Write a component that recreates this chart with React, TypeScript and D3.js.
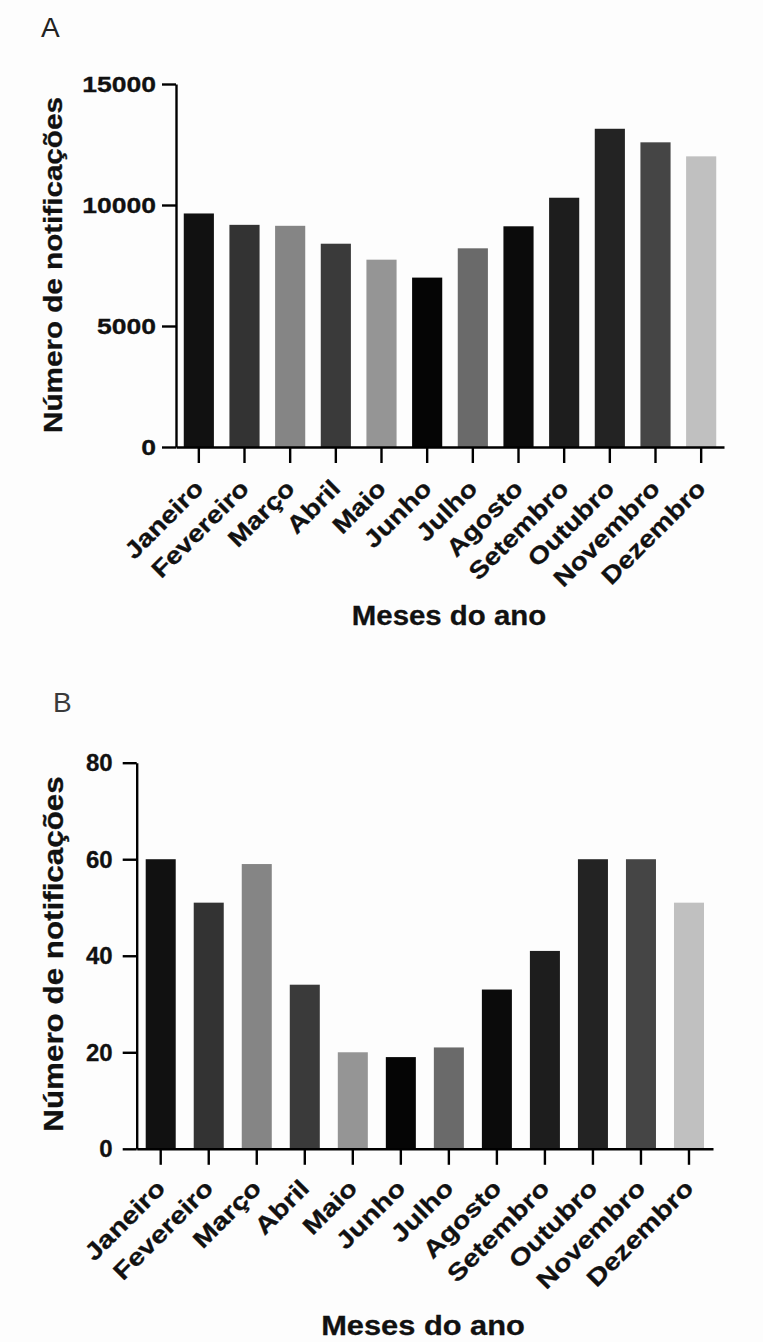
import React, { useEffect, useRef } from "react";
import * as d3 from "d3";

const months = [
  "Janeiro", "Fevereiro", "Março", "Abril", "Maio", "Junho",
  "Julho", "Agosto", "Setembro", "Outubro", "Novembro", "Dezembro",
];
const notificationsA = [9650, 9180, 9140, 8400, 7740, 7000, 8210, 9120, 10300, 13150, 12590, 12010];
const notificationsB = [60, 51, 59, 34, 20, 19, 21, 33, 41, 60, 60, 51];
const barColors = [
  "#111111", "#333333", "#858585", "#3a3a3a", "#959595", "#050505",
  "#6a6a6a", "#0b0b0b", "#1d1d1d", "#232323", "#454545", "#c0c0c0",
];
const ticksA = [0, 5000, 10000, 15000];
const ticksB = [0, 20, 40, 60, 80];
const yTitle = "Número de notificações";
const xTitle = "Meses do ano";

const FONT = "'Liberation Sans', Arial, Helvetica, sans-serif";

type Panel = {
  label: string; labelX: number; labelY: number; labelColor: string;
  values: number[]; ticks: number[]; max: number;
  x0: number; x1: number; yTop: number; yBottom: number;
  pad: number; tickFont: number; tickScale: number; tickGap: number;
  xLabelFont: number; xLabelScale: number; xLabelDx: number; xLabelDy: number;
  titleX: number; titleY: number; titleFont: number; titleScale: number;
  xTitleX: number; xTitleY: number; xTitleFont: number; xTitleScale: number;
};

const panels: Panel[] = [
  {
    label: "A", labelX: 41, labelY: 37, labelColor: "#222",
    values: notificationsA, ticks: ticksA, max: 15000,
    x0: 176, x1: 724, yTop: 84, yBottom: 447,
    pad: 0.34, tickFont: 22.5, tickScale: 1.18, tickGap: 6,
    xLabelFont: 24, xLabelScale: 1.17, xLabelDx: 6, xLabelDy: 43,
    titleX: 62, titleY: 265, titleFont: 26, titleScale: 1.14,
    xTitleX: 449, xTitleY: 625, xTitleFont: 28, xTitleScale: 1.05,
  },
  {
    label: "B", labelX: 53, labelY: 712, labelColor: "#3a3a3a",
    values: notificationsB, ticks: ticksB, max: 80,
    x0: 136.7, x1: 713, yTop: 762.7, yBottom: 1148.8,
    pad: 0.375, tickFont: 24, tickScale: 1.0, tickGap: 10,
    xLabelFont: 24, xLabelScale: 1.2, xLabelDx: 6, xLabelDy: 41,
    titleX: 63, titleY: 954, titleFont: 28, titleScale: 1.12,
    xTitleX: 423, xTitleY: 1335, xTitleFont: 28, xTitleScale: 1.1,
  },
];

function drawPanel(root: d3.Selection<SVGGElement, unknown, null, undefined>, p: Panel) {
  const g = root.append("g");
  const x = d3.scaleBand<string>().domain(months).range([p.x0, p.x1])
    .paddingInner(p.pad).paddingOuter(p.pad / 2);
  const y = d3.scaleLinear().domain([0, p.max]).range([p.yBottom, p.yTop]);

  g.append("text").attr("x", p.labelX).attr("y", p.labelY)
    .attr("font-family", FONT).attr("font-size", 28).attr("fill", p.labelColor)
    .text(p.label);

  g.selectAll("rect.bar").data(p.values).enter().append("rect")
    .attr("class", "bar")
    .attr("x", (_d, i) => x(months[i]) as number)
    .attr("width", x.bandwidth())
    .attr("y", (d) => y(d))
    .attr("height", (d) => y(0) - y(d))
    .attr("fill", (_d, i) => barColors[i]);

  // y axis
  const yAxis = d3.axisLeft(y).tickValues(p.ticks).tickSize(14).tickSizeOuter(0).tickFormat(() => "");
  const ya = g.append("g").attr("transform", `translate(${p.x0},0)`).call(yAxis);
  ya.select(".domain").attr("stroke", "#000").attr("stroke-width", 2.4);
  ya.selectAll(".tick line").attr("stroke", "#000").attr("stroke-width", 2.4);

  g.selectAll("text.ytick").data(p.ticks).enter().append("text")
    .attr("class", "ytick")
    .attr("transform", (d) => `translate(${p.x0 - 14 - p.tickGap},${y(d)}) scale(${p.tickScale},1)`)
    .attr("text-anchor", "end").attr("dy", "0.36em")
    .attr("font-family", FONT).attr("font-weight", "bold").attr("font-size", p.tickFont)
    .attr("fill", "#111").attr("stroke", "#111").attr("stroke-width", 0.3)
    .text((d) => String(d));

  // x axis
  const xAxis = d3.axisBottom(x).tickSize(16).tickSizeOuter(0).tickFormat(() => "");
  const xa = g.append("g").attr("transform", `translate(0,${p.yBottom})`).call(xAxis);
  xa.select(".domain").attr("stroke", "#000").attr("stroke-width", 2.4);
  xa.selectAll(".tick line").attr("stroke", "#000").attr("stroke-width", 2.4);

  g.selectAll("text.xtick").data(months).enter().append("text")
    .attr("class", "xtick")
    .attr("transform", (d) => {
      const cx = (x(d) as number) + x.bandwidth() / 2 + p.xLabelDx;
      return `translate(${cx},${p.yBottom + p.xLabelDy}) rotate(-45) scale(${p.xLabelScale},1)`;
    })
    .attr("text-anchor", "end")
    .attr("font-family", FONT).attr("font-weight", "bold").attr("font-size", p.xLabelFont)
    .attr("fill", "#111").attr("stroke", "#111").attr("stroke-width", 0.3)
    .text((d) => d);

  g.append("text")
    .attr("transform", `translate(${p.titleX},${p.titleY}) rotate(-90) scale(${p.titleScale},1)`)
    .attr("text-anchor", "middle")
    .attr("font-family", FONT).attr("font-weight", "bold").attr("font-size", p.titleFont)
    .attr("fill", "#111").attr("stroke", "#111").attr("stroke-width", 0.3)
    .text(yTitle);

  g.append("text")
    .attr("transform", `translate(${p.xTitleX},${p.xTitleY}) scale(${p.xTitleScale},1)`)
    .attr("text-anchor", "middle")
    .attr("font-family", FONT).attr("font-weight", "bold").attr("font-size", p.xTitleFont)
    .attr("fill", "#111").attr("stroke", "#111").attr("stroke-width", 0.3)
    .text(xTitle);
}

export default function App() {
  const ref = useRef<SVGSVGElement | null>(null);
  useEffect(() => {
    if (!ref.current) return;
    const svg = d3.select(ref.current);
    svg.selectAll("*").remove();
    const root = svg.append("g");
    panels.forEach((p) => drawPanel(root as any, p));
  }, []);
  return (
    <svg
      ref={ref}
      width={763}
      height={1342}
      style={{ position: "absolute", left: 0, top: 0, background: "#fdfdfd" }}
    />
  );
}
